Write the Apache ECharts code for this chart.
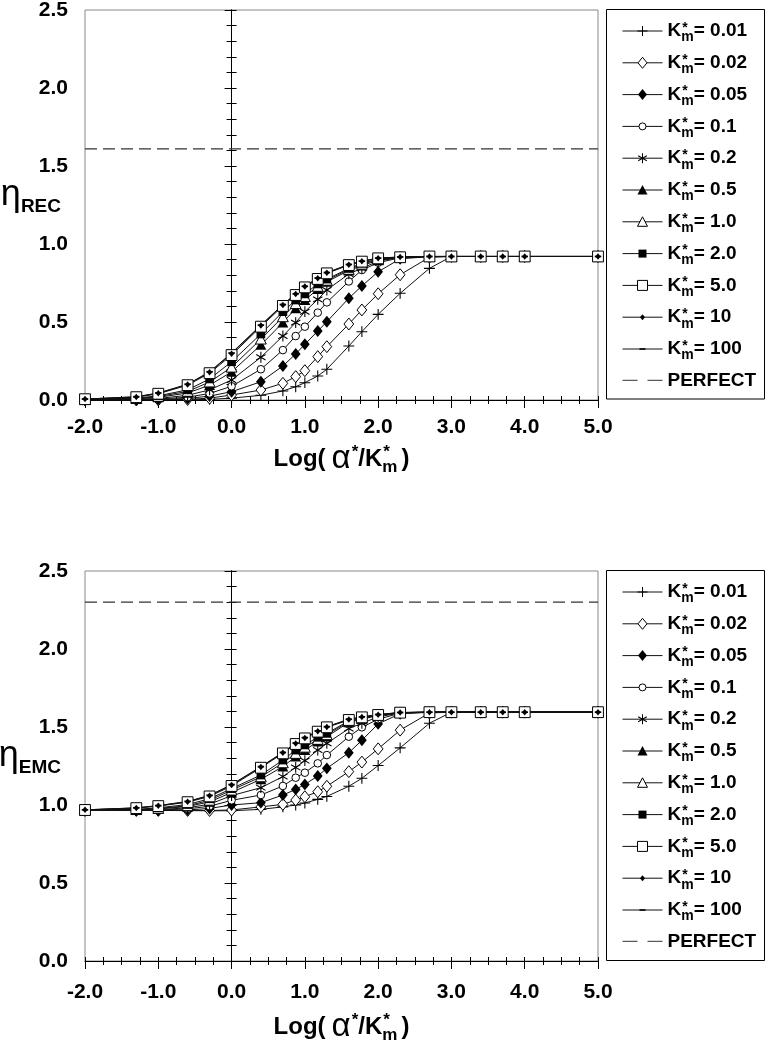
<!DOCTYPE html>
<html><head><meta charset="utf-8">
<script src="https://cdn.jsdelivr.net/npm/echarts@6/dist/echarts.min.js"></script>
<style>html,body{margin:0;padding:0;background:#fff}#c{width:769px;height:1048px}</style>
</head><body><div id="c"></div>
<script>
// ---------- data ----------
const xValues = [-2, -1.3, -1, -0.6, -0.3, 0, 0.4, 0.7, 0.875, 1.0, 1.176, 1.3, 1.6, 1.778, 2.0, 2.3, 2.7, 3.0, 3.4, 3.7, 4.0, 5.0];
const kLabels = ['0.01', '0.02', '0.05', '0.1', '0.2', '0.5', '1.0', '2.0', '5.0', '10', '100'];
const perfectX = [-2, 5];
const perfectRec = [1.61, 1.61];
const perfectEmc = [2.30, 2.30];

const rec001 = [0, 0, 0, 0.001, 0.004, 0.012, 0.030, 0.058, 0.085, 0.111, 0.154, 0.197, 0.346, 0.438, 0.549, 0.684, 0.844, 0.92, 0.92, 0.92, 0.92, 0.92];
const rec002 = [0, 0, 0.001, 0.004, 0.012, 0.032, 0.064, 0.107, 0.150, 0.188, 0.278, 0.342, 0.487, 0.577, 0.681, 0.803, 0.915, 0.92, 0.92, 0.92, 0.92, 0.92];
const rec005 = [0, 0.001, 0.003, 0.010, 0.025, 0.053, 0.117, 0.218, 0.295, 0.357, 0.442, 0.502, 0.652, 0.731, 0.822, 0.905, 0.919, 0.92, 0.92, 0.92, 0.92, 0.92];
const rec01 = [0.001, 0.002, 0.006, 0.018, 0.042, 0.088, 0.197, 0.320, 0.410, 0.470, 0.560, 0.626, 0.760, 0.833, 0.880, 0.912, 0.919, 0.92, 0.92, 0.92, 0.92, 0.92];
const rec02 = [0.001, 0.004, 0.010, 0.030, 0.065, 0.128, 0.274, 0.410, 0.496, 0.566, 0.645, 0.705, 0.808, 0.844, 0.890, 0.914, 0.919, 0.92, 0.92, 0.92, 0.92, 0.92];
const rec05 = [0.002, 0.007, 0.017, 0.045, 0.095, 0.180, 0.353, 0.496, 0.588, 0.641, 0.710, 0.758, 0.830, 0.862, 0.895, 0.915, 0.92, 0.92, 0.92, 0.92, 0.92, 0.92];
const rec1 = [0.003, 0.009, 0.022, 0.055, 0.115, 0.210, 0.390, 0.533, 0.617, 0.663, 0.728, 0.767, 0.837, 0.870, 0.900, 0.916, 0.92, 0.92, 0.92, 0.92, 0.92, 0.92];
const rec2 = [0.004, 0.012, 0.027, 0.065, 0.135, 0.245, 0.423, 0.566, 0.641, 0.680, 0.744, 0.775, 0.843, 0.877, 0.903, 0.917, 0.92, 0.92, 0.92, 0.92, 0.92, 0.92];
const rec5 = [0.005, 0.018, 0.040, 0.095, 0.172, 0.288, 0.470, 0.603, 0.673, 0.722, 0.776, 0.812, 0.865, 0.887, 0.908, 0.915, 0.92, 0.92, 0.92, 0.92, 0.92, 0.92];
const rec10 = [0.006, 0.020, 0.043, 0.099, 0.178, 0.297, 0.477, 0.609, 0.679, 0.727, 0.780, 0.815, 0.867, 0.889, 0.909, 0.916, 0.92, 0.92, 0.92, 0.92, 0.92, 0.92];
const rec100 = [0.006, 0.021, 0.045, 0.101, 0.181, 0.301, 0.480, 0.612, 0.681, 0.729, 0.782, 0.817, 0.869, 0.890, 0.910, 0.917, 0.92, 0.92, 0.92, 0.92, 0.92, 0.92];

const emc001 = [0.965, 0.965, 0.965, 0.964, 0.963, 0.963, 0.972, 0.988, 1.000, 1.013, 1.036, 1.055, 1.120, 1.171, 1.253, 1.366, 1.524, 1.595, 1.595, 1.595, 1.595, 1.595];
const emc002 = [0.965, 0.965, 0.965, 0.965, 0.965, 0.968, 0.988, 1.004, 1.032, 1.053, 1.085, 1.120, 1.214, 1.275, 1.360, 1.480, 1.590, 1.595, 1.595, 1.595, 1.595, 1.595];
const emc005 = [0.965, 0.965, 0.966, 0.968, 0.978, 1.000, 1.015, 1.064, 1.100, 1.132, 1.186, 1.235, 1.335, 1.415, 1.520, 1.585, 1.594, 1.595, 1.595, 1.595, 1.595, 1.595];
const emc01 = [0.965, 0.966, 0.968, 0.975, 0.992, 1.030, 1.064, 1.122, 1.175, 1.207, 1.267, 1.320, 1.438, 1.498, 1.550, 1.588, 1.595, 1.595, 1.595, 1.595, 1.595, 1.595];
const emc02 = [0.965, 0.967, 0.970, 0.982, 1.005, 1.060, 1.111, 1.182, 1.241, 1.284, 1.352, 1.395, 1.490, 1.524, 1.565, 1.590, 1.595, 1.595, 1.595, 1.595, 1.595, 1.595];
const emc05 = [0.966, 0.968, 0.975, 0.990, 1.020, 1.080, 1.165, 1.246, 1.310, 1.352, 1.406, 1.438, 1.530, 1.550, 1.573, 1.591, 1.595, 1.595, 1.595, 1.595, 1.595, 1.595];
const emc1 = [0.966, 0.970, 0.978, 0.995, 1.030, 1.095, 1.180, 1.270, 1.330, 1.370, 1.420, 1.450, 1.535, 1.555, 1.575, 1.592, 1.595, 1.595, 1.595, 1.595, 1.595, 1.595];
const emc2 = [0.967, 0.972, 0.982, 1.003, 1.040, 1.105, 1.192, 1.288, 1.352, 1.385, 1.434, 1.459, 1.540, 1.560, 1.576, 1.592, 1.595, 1.595, 1.595, 1.595, 1.595, 1.595];
const emc5 = [0.968, 0.980, 0.993, 1.018, 1.055, 1.122, 1.239, 1.331, 1.391, 1.427, 1.470, 1.498, 1.545, 1.562, 1.577, 1.592, 1.595, 1.595, 1.595, 1.595, 1.595, 1.595];
const emc10 = [0.969, 0.981, 0.995, 1.021, 1.060, 1.128, 1.244, 1.335, 1.395, 1.430, 1.473, 1.500, 1.548, 1.564, 1.579, 1.593, 1.595, 1.595, 1.595, 1.595, 1.595, 1.595];
const emc100 = [0.969, 0.982, 0.996, 1.023, 1.062, 1.131, 1.246, 1.337, 1.397, 1.432, 1.475, 1.502, 1.550, 1.565, 1.580, 1.593, 1.595, 1.595, 1.595, 1.595, 1.595, 1.595];

const recSets = [rec001, rec002, rec005, rec01, rec02, rec05, rec1, rec2, rec5, rec10, rec100];
const emcSets = [emc001, emc002, emc005, emc01, emc02, emc05, emc1, emc2, emc5, emc10, emc100];

// ---------- styles ----------
const FONT = '"Liberation Sans", Arial, Helvetica, sans-serif';
const FRAME = 'M-6,-6L-6,-6M6,6L6,6';
const DIAMOND = 'M0,-5.5L4.5,0L0,5.5L-4.5,0Z';
const TRI = 'M0,-5L5,4.5L-5,4.5Z';
const STAR = 'M-0.5,-5H0.5V5H-0.5Z' +
  'M-4.55,-2.07L-4.05,-2.93L4.55,2.07L4.05,2.93Z' +
  'M4.55,-2.07L-4.05,2.93L-4.55,2.07L4.05,-2.93Z';
const markerDefs = [
  { path: 'M-0.5,-5H0.5V-0.5H5V0.5H0.5V5H-0.5V0.5H-5V-0.5H-0.5Z', fill: '#000', border: 0 },
  { path: DIAMOND, fill: '#fff', border: 1 },
  { path: DIAMOND, fill: '#000', border: 0 },
  { path: 'M-3.5,0A3.5,3.5,0,1,0,3.5,0A3.5,3.5,0,1,0,-3.5,0Z', fill: '#fff', border: 1 },
  { path: STAR, fill: '#000', border: 0 },
  { path: TRI, fill: '#000', border: 0 },
  { path: TRI, fill: '#fff', border: 1 },
  { path: 'M-4,-4H4V4H-4Z', fill: '#000', border: 0 },
  { path: 'M-5,-5H5V5H-5Z', fill: '#fff', border: 1 },
  { path: 'M0,-3L2.5,0L0,3L-2.5,0Z', fill: '#000', border: 0 },
  { path: 'M-3,-0.8H3V0.8H-3Z', fill: '#000', border: 0 }
];
const names = kLabels.map(k => 'K*m= ' + k).concat(['PERFECT']);

function buildSeries(sets, perfectY, xi, yi) {
  const out = sets.map((ys, s) => ({
    type: 'line', name: names[s], xAxisIndex: xi, yAxisIndex: yi,
    data: xValues.map((x, i) => [x, ys[i]]),
    symbol: 'path://' + FRAME + markerDefs[s].path, symbolSize: 13,
    showSymbol: true, showAllSymbol: true,
    itemStyle: { color: markerDefs[s].fill, borderColor: '#000', borderWidth: markerDefs[s].border },
    lineStyle: { color: '#111', width: 1 },
    emphasis: { disabled: true }, silent: true
  }));
  out.push({
    type: 'line', name: 'PERFECT', xAxisIndex: xi, yAxisIndex: yi,
    data: perfectX.map((x, i) => [x, perfectY[i]]),
    symbol: 'path://' + FRAME, symbolSize: 12, showSymbol: false,
    itemStyle: { color: '#000', borderWidth: 0 },
    lineStyle: { color: '#333', width: 1.2, type: [12, 6] },
    emphasis: { disabled: true }, silent: true
  });
  return out;
}

const xNameRich = {
  t: { fontSize: 24, fontWeight: 'bold', fontFamily: FONT, color: '#000', lineHeight: 36 },
  a: { fontSize: 33, fontWeight: 'normal', fontFamily: FONT, color: '#000', lineHeight: 36, padding: [0, 0, 0, 6] },
  s: { fontSize: 17, fontWeight: 'bold', fontFamily: FONT, color: '#000', lineHeight: 36, padding: [-7, 0, 7, 1] },
  m: { fontSize: 17, fontWeight: 'bold', fontFamily: FONT, color: '#000', lineHeight: 36, padding: [8, 4, -8, -7.6] }
};
function yNameRich() {
  return {
    e: { fontSize: 36, fontWeight: 'normal', fontFamily: FONT, color: '#000', lineHeight: 40, padding: [-10, 0, 10, 0] },
    r: { fontSize: 19, fontWeight: 'bold', fontFamily: FONT, color: '#000', lineHeight: 40, padding: [2, 0, -2, 0] }
  };
}
const tickLabel = (margin) => ({
  formatter: v => v.toFixed(1), margin: margin, fontSize: 21, fontWeight: 'bold', color: '#000', fontFamily: FONT
});

function xAxes(g, labelMargin, nameGap) {
  return [
    { type: 'value', gridIndex: g, min: -2, max: 5, interval: 1, position: 'bottom',
      axisLine: { show: true, onZero: false, lineStyle: { color: '#000', width: 1 } },
      axisTick: { show: true, length: 8, lineStyle: { color: '#000', width: 1 } },
      minorTick: { show: true, splitNumber: 4, length: 4, lineStyle: { color: '#000', width: 1 } },
      splitLine: { show: false }, minorSplitLine: { show: false },
      axisLabel: tickLabel(labelMargin),
      name: '{t|Log(}{a|α}{s|*}{t|/K}{s|*}{m|m}{t|)}',
      nameLocation: 'middle', nameGap: nameGap, nameMoveOverlap: false,
      nameTextStyle: { rich: xNameRich } },
    { type: 'value', gridIndex: g, min: -2, max: 5, interval: 1, position: 'bottom',
      axisLine: { show: false, onZero: false },
      axisTick: { show: true, inside: true, length: 4, lineStyle: { color: '#000', width: 1 } },
      minorTick: { show: true, splitNumber: 4, length: 4, lineStyle: { color: '#000', width: 1 } },
      splitLine: { show: false }, minorSplitLine: { show: false }, axisLabel: { show: false } }
  ];
}
function yAxes(g, sub) {
  return [
    { type: 'value', gridIndex: g, min: 0, max: 2.5, interval: 0.5, position: 'left',
      axisLine: { show: false, onZero: false }, axisTick: { show: false },
      splitLine: { show: false }, axisLabel: tickLabel(17),
      name: '{e|η}{r|' + sub + '}', nameLocation: 'middle', nameRotate: 0, nameGap: 24,
      nameMoveOverlap: false, nameTextStyle: { rich: yNameRich() } },
    { type: 'value', gridIndex: g, min: 0, max: 2.5, interval: 0.5, position: 'left',
      axisLine: { show: true, onZero: true, lineStyle: { color: '#000', width: 1 } },
      axisTick: { show: true, length: 7, lineStyle: { color: '#000', width: 1 } },
      minorTick: { show: true, splitNumber: 5, length: 5, lineStyle: { color: '#000', width: 1 } },
      splitLine: { show: false }, minorSplitLine: { show: false }, axisLabel: { show: false } },
    { type: 'value', gridIndex: g, min: 0, max: 2.5, interval: 0.5, position: 'left',
      axisLine: { show: true, onZero: true, lineStyle: { color: '#000', width: 1 } },
      axisTick: { show: true, inside: true, length: 5, lineStyle: { color: '#000', width: 1 } },
      minorTick: { show: true, splitNumber: 5, length: 5, lineStyle: { color: '#000', width: 1 } },
      splitLine: { show: false }, minorSplitLine: { show: false }, axisLabel: { show: false } }
  ];
}

const legendRich = {
  k: { fontSize: 19, fontWeight: 'bold', fontFamily: FONT, color: '#000', lineHeight: 24 },
  s: { fontSize: 14, fontWeight: 'bold', fontFamily: FONT, color: '#000', lineHeight: 24, padding: [-3, 0, 3, 1] },
  m: { fontSize: 14, fontWeight: 'bold', fontFamily: FONT, color: '#000', lineHeight: 24, padding: [6.5, 0, -6.5, -6.4] },
  t: { fontSize: 19, fontWeight: 'bold', fontFamily: FONT, color: '#000', lineHeight: 24 },
  p: { fontSize: 19, fontWeight: 'bold', fontFamily: FONT, color: '#000', lineHeight: 24 }
};
function legendFor(top) {
  return {
    orient: 'vertical', left: 606, top: top,
    data: names.map(n => n === 'PERFECT' ? { name: n, lineStyle: { type: [15, 10] } } : { name: n }),
    itemWidth: 40, itemHeight: 15, itemGap: 8.3,
    padding: [8.5, 9.3, 7.7, 16],
    borderWidth: 0,
    selectedMode: false,
    itemStyle: { borderWidth: 'inherit' },
    lineStyle: { width: 1 },
    formatter: n => n === 'PERFECT' ? '{p|PERFECT}' : '{k|K}{s|*}{m|m}{t|= ' + n.split('= ')[1] + '}',
    textStyle: { rich: legendRich, color: '#000' }
  };
}
// legend frames (decoration boxes around the two legends)
const legendFrames = [
  { type: 'rect', shape: { x: 606.5, y: 9.5, width: 158, height: 389.5 }, style: { fill: 'none', stroke: '#000', lineWidth: 1 }, silent: true },
  { type: 'rect', shape: { x: 606.5, y: 570.5, width: 158, height: 390 }, style: { fill: 'none', stroke: '#000', lineWidth: 1 }, silent: true }
];

const chart = echarts.init(document.getElementById('c'), null, { renderer: 'canvas' });
chart.setOption({
  animation: false,
  backgroundColor: '#fff',
  grid: [
    { left: 85, top: 10, width: 513, height: 390, show: true, borderColor: '#888', borderWidth: 1, containLabel: false, outerBoundsMode: 'none' },
    { left: 85, top: 571, width: 513, height: 390, show: true, borderColor: '#888', borderWidth: 1, containLabel: false, outerBoundsMode: 'none' }
  ],
  xAxis: xAxes(0, 17, 41).concat(xAxes(1, 21, 48)),
  yAxis: yAxes(0, 'REC').concat(yAxes(1, 'EMC')),
  legend: [legendFor(12.5), legendFor(573.5)],
  graphic: legendFrames,
  series: buildSeries(recSets, perfectRec, 0, 0).concat(buildSeries(emcSets, perfectEmc, 2, 3))
});
</script>
</body></html>
